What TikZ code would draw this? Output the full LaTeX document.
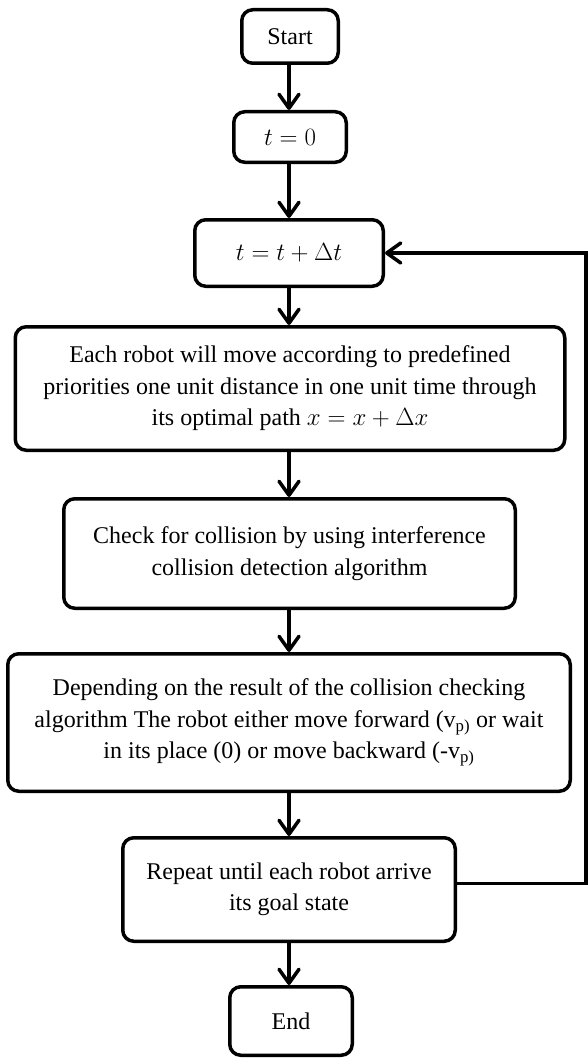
\documentclass[tikz,border=0pt]{standalone}
\usepackage{fontspec}
\setmainfont{Liberation Serif}
\usetikzlibrary{arrows.meta}
\tikzset{
  box/.style={draw=black, line width=3.5pt, rounded corners=11pt, fill=white,
    align=center, inner sep=0pt, font=\fontsize{24}{31.5}\selectfont},
  arr/.style={draw=black, line width=3.5pt,
    -{Straight Barb[length=14pt,width=20pt,line cap=round,line join=round]}}
}
\begin{document}
\begin{tikzpicture}[x=1pt,y=1pt]
\useasboundingbox (0,0) rectangle (587,-1062);
\node[box, minimum width=96.5pt, minimum height=53.5pt] (start) at (290,-36.5) {Start};
\node[box, minimum width=112.5pt, minimum height=50.5pt] (t0) at (290,-137) {$t = 0$};
\node[box, minimum width=188.5pt, minimum height=66.5pt] (tdt) at (289,-253) {$t = t + \Delta t$};
\node[box, minimum width=549.5pt, minimum height=123.5pt] (move) at (290,-388.5)
  {Each robot will move according to predefined\\priorities one unit distance in one unit time through\\its optimal path $x = x + \Delta x$};
\node[box, minimum width=451.5pt, minimum height=109.5pt] (check) at (289.5,-553.5)
  {Check for collision by using interference\\collision detection algorithm};
\node[box, minimum width=562.5pt, minimum height=137.5pt] (dep) at (289,-722.5)
  {Depending on the result of the collision checking\\algorithm The robot either move forward (v\textsubscript{p)} or wait\\in its place (0) or move backward (-v\textsubscript{p)}};
\node[box, minimum width=332.5pt, minimum height=103.5pt] (rep) at (289,-889.5)
  {Repeat until each robot arrive\\its goal state};
\node[box, minimum width=122.5pt, minimum height=68.5pt] (end) at (291,-1021) {End};
\coordinate (fbR) at (586,-883.5);
\draw[arr] (start.south -| 289,0) -- (t0.north -| 289,0);
\draw[arr] (t0.south -| 289,0) -- (tdt.north -| 289,0);
\draw[arr] (tdt.south -| 289,0) -- (move.north -| 289,0);
\draw[arr] (move.south -| 289,0) -- (check.north -| 289,0);
\draw[arr] (check.south -| 289,0) -- (dep.north -| 289,0);
\draw[arr] (dep.south -| 289,0) -- (rep.north -| 289,0);
\draw[arr] (rep.south -| 289,0) -- (end.north -| 289,0);
\draw[arr] ([yshift=6pt]rep.east) -- (fbR) |- (tdt.east);
\end{tikzpicture}
\end{document}
